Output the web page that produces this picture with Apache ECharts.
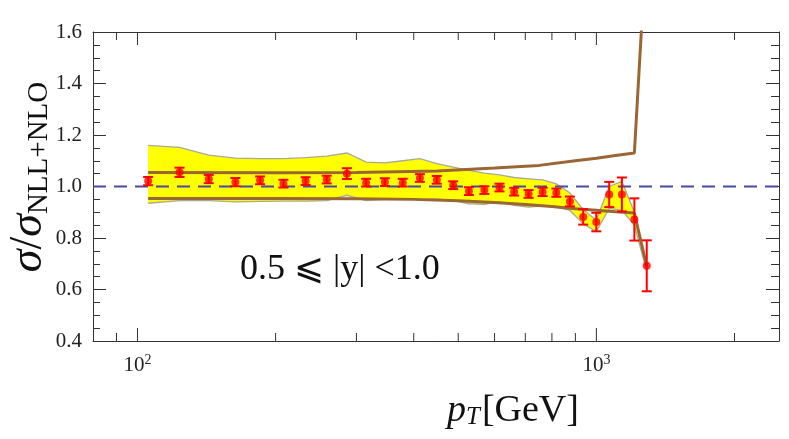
<!DOCTYPE html>
<html>
<head>
<meta charset="utf-8">
<script src="https://cdn.jsdelivr.net/npm/echarts@6/dist/echarts.min.js"></script>
<style>html,body{margin:0;padding:0;background:#fff}#c{width:789px;height:439px}</style>
</head>
<body>
<div id="c"></div>
<script>
// ---- data ----
const ptX = [105.5,123.5,143,163.5,185,208,232.5,258.5,286,315,346,378.5,412.5,449,487.5,527.5,570,615,662,711.5,763.5,818,875.5,936,999.5,1066.5,1136.5,1210,1287.5];
const ptY = [1.021,1.055,1.029,1.017,1.024,1.011,1.021,1.027,1.050,1.015,1.017,1.015,1.033,1.026,1.005,0.982,0.986,0.996,0.980,0.971,0.979,0.976,0.942,0.882,0.862,0.969,0.969,0.872,0.692];
const ptErr = [0.016,0.018,0.016,0.016,0.015,0.015,0.015,0.015,0.021,0.015,0.015,0.015,0.015,0.015,0.015,0.015,0.015,0.015,0.015,0.015,0.016,0.016,0.019,0.030,0.036,0.049,0.066,0.082,0.099];
const bandUp = [1.160,1.152,1.122,1.110,1.108,1.108,1.112,1.118,1.130,1.095,1.092,1.100,1.108,1.089,1.075,1.063,1.052,1.045,1.035,1.030,1.026,1.010,0.975,0.910,0.870,1.000,1.020,0.900,0.690];
const bandLo = [0.935,0.945,0.945,0.940,0.942,0.943,0.943,0.945,0.966,0.945,0.950,0.953,0.949,0.952,0.945,0.933,0.931,0.940,0.927,0.920,0.925,0.920,0.907,0.855,0.825,0.915,0.907,0.850,0.670];
const upLineX = [105.5,200,300,450,600,750,900,1000,1100,1210,1287.5];
const upLineY = [1.054,1.053,1.054,1.060,1.072,1.082,1.100,1.110,1.120,1.130,1.970];
const loLineX = [105.5,200,300,400,500,600,700,800,900,1000,1100,1210,1287.5];
const loLineY = [0.953,0.953,0.952,0.950,0.945,0.938,0.930,0.922,0.914,0.908,0.902,0.897,0.690];
const refX = [80, 2500];
const refY = [1.0, 1.0];
const xMajorTicks = [100, 1000];
const xMinorTicks = [90, 200, 300, 400, 500, 600, 700, 800, 900, 2000];
const yTicks = {min: 0.4, max: 1.6, step: 0.2};
const annotation = '0.5 \u2A7D |y| <1.0';

// ---- chart ----
const chart = echarts.init(document.getElementById('c'), null, {renderer: 'canvas'});
const SERIF = '"Liberation Serif", "DejaVu Serif", serif';
const FR = '#333';
const zip = (a, b) => a.map((v, i) => [v, b[i]]);

const tickData = xMajorTicks.map(v => [v, 1]).concat(xMinorTicks.map(v => [v, 0]));

const option = {
  animation: false,
  grid: {left: 93, right: 10, top: 32, bottom: 98, containLabel: false},
  xAxis: [
    {type: 'log', logBase: 10, min: 80, max: 2500, position: 'bottom',
     axisLine: {show: true, lineStyle: {color: FR, width: 1}},
     axisTick: {show: false}, splitLine: {show: false}, minorTick: {show: false},
     axisLabel: {margin: 12, color: '#222', fontFamily: SERIF, fontSize: 21,
       formatter: v => { const e = Math.log10(v); const r = Math.round(e);
         return Math.abs(e - r) < 1e-6 ? '{b|10}{s|' + r + '}' : ''; },
       rich: {b: {fontSize: 21, fontFamily: SERIF, color: '#222'},
              s: {fontSize: 14, fontFamily: SERIF, color: '#222', padding: [0, 0, 11, 0]}}}},
    {type: 'log', logBase: 10, min: 80, max: 2500, position: 'top',
     axisLine: {show: true, lineStyle: {color: FR, width: 1}},
     axisTick: {show: false}, axisLabel: {show: false}, splitLine: {show: false}}
  ],
  yAxis: [
    {type: 'value', min: yTicks.min, max: yTicks.max, interval: yTicks.step, position: 'left',
     axisLine: {show: true, lineStyle: {color: FR, width: 1}},
     axisTick: {show: true, inside: true, length: 13, lineStyle: {color: FR}},
     minorTick: {show: true, splitNumber: 4, length: 7, lineStyle: {color: FR}},
     splitLine: {show: false},
     axisLabel: {margin: 11, color: '#222', fontFamily: SERIF, fontSize: 21, formatter: v => v.toFixed(1)}},
    {type: 'value', min: yTicks.min, max: yTicks.max, interval: yTicks.step, position: 'right',
     axisLine: {show: true, lineStyle: {color: FR, width: 1}},
     axisTick: {show: true, inside: true, length: 13, lineStyle: {color: FR}},
     minorTick: {show: true, splitNumber: 4, length: 8, lineStyle: {color: FR}},
     splitLine: {show: false}, axisLabel: {show: false}}
  ],
  series: [
    {type: 'custom', z: 1, clip: true, data: [[ptX[0], bandUp[0]]], encode: {x: 0, y: 1},
     renderItem: (params, api) => {
       const up = ptX.map((x, i) => api.coord([x, bandUp[i]]));
       const lo = ptX.map((x, i) => api.coord([x, bandLo[i]]));
       const edge = {stroke: '#a9a99a', lineWidth: 1.3, fill: null};
       return {type: 'group', children: [
         {type: 'polygon', shape: {points: up.concat(lo.slice().reverse())}, style: {fill: '#ffff00'}},
         {type: 'polyline', shape: {points: up}, style: edge},
         {type: 'polyline', shape: {points: lo}, style: edge}
       ]};
     }},
    {type: 'line', data: zip(refX, refY), symbol: 'none', z: 3,
     lineStyle: {color: '#4848a8', width: 2, type: [13, 8]}},
    {type: 'line', data: zip(upLineX, upLineY), symbol: 'none', z: 2, clip: true,
     lineStyle: {color: '#9a6634', width: 3}},
    {type: 'line', data: zip(loLineX, loLineY), symbol: 'none', z: 2,
     lineStyle: {color: '#9a6634', width: 3}},
    {type: 'custom', z: 4, data: ptX.map((x, i) => [x, ptY[i], ptErr[i]]),
     encode: {x: 0, y: 1},
     renderItem: (params, api) => {
       const x = api.value(0), y = api.value(1), e = api.value(2);
       const t = api.coord([x, y + e]), b = api.coord([x, y - e]);
       const hw = 5, st = {stroke: '#ff0000', lineWidth: 2};
       return {type: 'group', children: [
         {type: 'line', shape: {x1: t[0], y1: t[1], x2: b[0], y2: b[1]}, style: st},
         {type: 'line', shape: {x1: t[0] - hw, y1: t[1], x2: t[0] + hw, y2: t[1]}, style: st},
         {type: 'line', shape: {x1: b[0] - hw, y1: b[1], x2: b[0] + hw, y2: b[1]}, style: st}
       ]};
     }},
    {type: 'scatter', z: 5, data: zip(ptX, ptY), symbol: 'circle', symbolSize: 8,
     itemStyle: {color: '#ff0000'}},
    {type: 'custom', z: 6, data: tickData, encode: {x: 0, y: 1}, clip: false,
     renderItem: (params, api) => {
       const v = api.value(0), major = api.value(1) === 1;
       const L = major ? 13 : 8;
       const b = api.coord([v, yTicks.min]), t = api.coord([v, yTicks.max]);
       const st = {stroke: FR, lineWidth: 1};
       return {type: 'group', children: [
         {type: 'line', shape: {x1: b[0], y1: b[1], x2: b[0], y2: b[1] - L}, style: st},
         {type: 'line', shape: {x1: t[0], y1: t[1], x2: t[0], y2: t[1] + L}, style: st}
       ]};
     }}
  ],
  graphic: [
    {type: 'text', left: 240, top: 252, z: 10,
     style: {text: annotation, font: '36px ' + SERIF, fill: '#111'}},
    {type: 'text', x: 447, y: 411, z: 10,
     style: {text: '{p|p}{t|T}{g|[GeV]}', textVerticalAlign: 'middle',
       rich: {p: {fontFamily: SERIF, fontStyle: 'italic', fontSize: 38, fill: '#111'},
              t: {fontFamily: SERIF, fontStyle: 'italic', fontSize: 25, fill: '#111', padding: [12, 2, 0, 0]},
              g: {fontFamily: SERIF, fontSize: 38, fill: '#111'}}}},
    {type: 'text', x: 29, y: 177, rotation: Math.PI / 2, z: 10,
     style: {text: '{s|\u03C3}{n|/}{s|\u03C3}{u|NLL+NLO}', align: 'center', verticalAlign: 'middle',
       textAlign: 'center', textVerticalAlign: 'middle',
       rich: {s: {fontFamily: SERIF, fontStyle: 'italic', fontSize: 46, fill: '#111'},
              n: {fontFamily: SERIF, fontSize: 46, fill: '#111'},
              u: {fontFamily: SERIF, fontSize: 29, fill: '#111', padding: [20, 0, 0, 0]}}}}
  ]
};
chart.setOption(option);
</script>
</body>
</html>
